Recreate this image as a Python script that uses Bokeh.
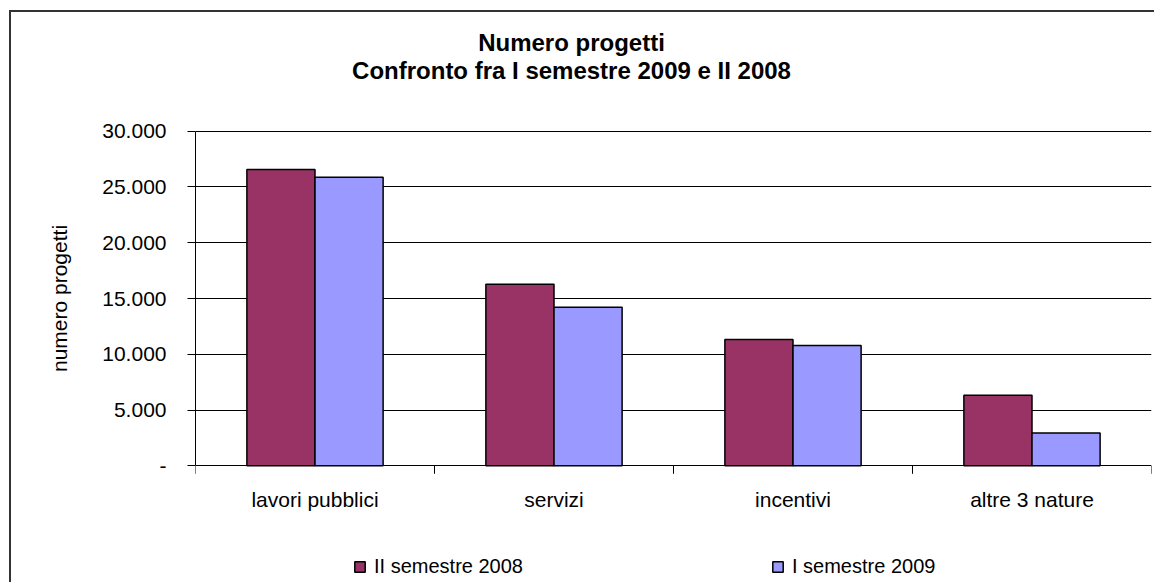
from bokeh.plotting import figure
from bokeh.models import ColumnDataSource, Range1d, FixedTicker, Label, Legend, LegendItem
from bokeh.core.properties import value
from bokeh.embed import file_html
from bokeh.resources import INLINE

# ---- data ----
categories = ["lavori pubblici", "servizi", "incentivi", "altre 3 nature"]
series_names = ["II semestre 2008", "I semestre 2009"]
values_2008 = [26560, 16280, 11320, 6330]
values_2009 = [25880, 14220, 10790, 2930]
y_ticks = [0, 5000, 10000, 15000, 20000, 25000, 30000]
y_tick_labels = ["-", "5.000", "10.000", "15.000", "20.000", "25.000", "30.000"]
title_lines = ["Numero progetti", "Confronto fra I semestre 2009 e II 2008"]
y_axis_title = "numero progetti"
colors = ["#993366", "#9999FF"]
Y_MAX = 30000

# ---- layout (pixels, canvas coordinates) ----
FONT = "Liberation Sans"
BAR_W = 0.285
W, H = 1145, 572
LEFT, RIGHT = 184, 5
TOP_PX, ZERO_PX = 118.7, 453.3          # canvas y of 30.000 and of 0
u = Y_MAX / (ZERO_PX - TOP_PX)          # data units per pixel
y_hi = Y_MAX + TOP_PX * u
y_lo = -(H - ZERO_PX) * u
n = len(categories)
px_per_cat = (W - LEFT - RIGHT) / n

centers = [i + 0.5 for i in range(n)]
boundaries = [float(i) for i in range(n + 1)]

src08 = ColumnDataSource(dict(x=[c - BAR_W / 2 for c in centers], top=values_2008))
src09 = ColumnDataSource(dict(x=[c + BAR_W / 2 for c in centers], top=values_2009))

p = figure(width=W, height=H, output_backend="svg", toolbar_location=None,
           x_range=Range1d(0, n), y_range=Range1d(y_lo, y_hi),
           x_axis_location=None,
           min_border_left=LEFT, min_border_right=RIGHT, min_border_top=0,
           min_border_bottom=0)
p.styles = {"border-left": "2px solid #333", "border-top": "2px solid #333",
            "margin-left": "9px", "margin-top": "10px"}
p.background_fill_color = "white"
p.border_fill_color = "white"
p.outline_line_color = None
p.title = None

# grid (including the 0 line, acting as category axis line)
p.xgrid.grid_line_color = None
p.ygrid.ticker = FixedTicker(ticks=y_ticks)
p.ygrid.grid_line_color = "black"
p.ygrid.grid_line_width = 1

r08 = p.vbar(x="x", top="top", width=BAR_W, source=src08, fill_color=colors[0],
             line_color="black", line_width=1.5)
r09 = p.vbar(x="x", top="top", width=BAR_W, source=src09, fill_color=colors[1],
             line_color="black", line_width=1.5)

# y axis
p.yaxis.bounds = (0, Y_MAX)
p.yaxis.ticker = FixedTicker(ticks=y_ticks)
p.yaxis.major_label_overrides = {t: l for t, l in zip(y_ticks, y_tick_labels)}
p.yaxis.major_tick_out = 8
p.yaxis.major_tick_in = 0
p.yaxis.minor_tick_line_color = None
p.yaxis.major_label_standoff = 21
p.yaxis.major_label_text_font = FONT
p.yaxis.major_label_text_font_size = "21px"
p.yaxis.major_label_text_color = "black"
p.yaxis.axis_label = y_axis_title
p.yaxis.axis_label_text_font = FONT
p.yaxis.axis_label_text_font_size = "21px"
p.yaxis.axis_label_text_font_style = "normal"
p.yaxis.axis_label_text_color = "black"
p.yaxis.axis_label_standoff = 28
p.yaxis.axis_line_color = "black"
p.yaxis.major_tick_line_color = "black"

# category axis: ticks at boundaries, labels at centres
p.segment(x0=boundaries, y0=[0] * len(boundaries), x1=boundaries,
          y1=[-8 * u] * len(boundaries), line_color="black", line_width=1)
p.text(x=centers, y=[-(34.0) * u] * n, text=categories, text_align="center",
       text_baseline="alphabetic", text_font=value(FONT), text_font_size="21px",
       text_color="black")

# title
title_x = (571 - 11 - LEFT) / px_per_cat
for txt, base_px in zip(title_lines, [29.5, 58.0]):
    p.add_layout(Label(x=title_x, y=Y_MAX + (TOP_PX - base_px) * u, text=txt,
                       text_align="center", text_baseline="alphabetic",
                       text_font=FONT, text_font_size="24px",
                       text_font_style="bold", text_color="black"))

legend = Legend(items=[LegendItem(label=series_names[0], renderers=[r08]),
                       LegendItem(label=series_names[1], renderers=[r09])],
                orientation="horizontal", location=(158, 6), spacing=248,
                glyph_width=13, glyph_height=13, padding=0, margin=0,
                label_text_font=FONT, label_text_font_size="20px",
                label_text_color="black",
                border_line_color=None, background_fill_alpha=0, label_standoff=8)
p.add_layout(legend)

open("out.html", "w").write(file_html(p, INLINE))
